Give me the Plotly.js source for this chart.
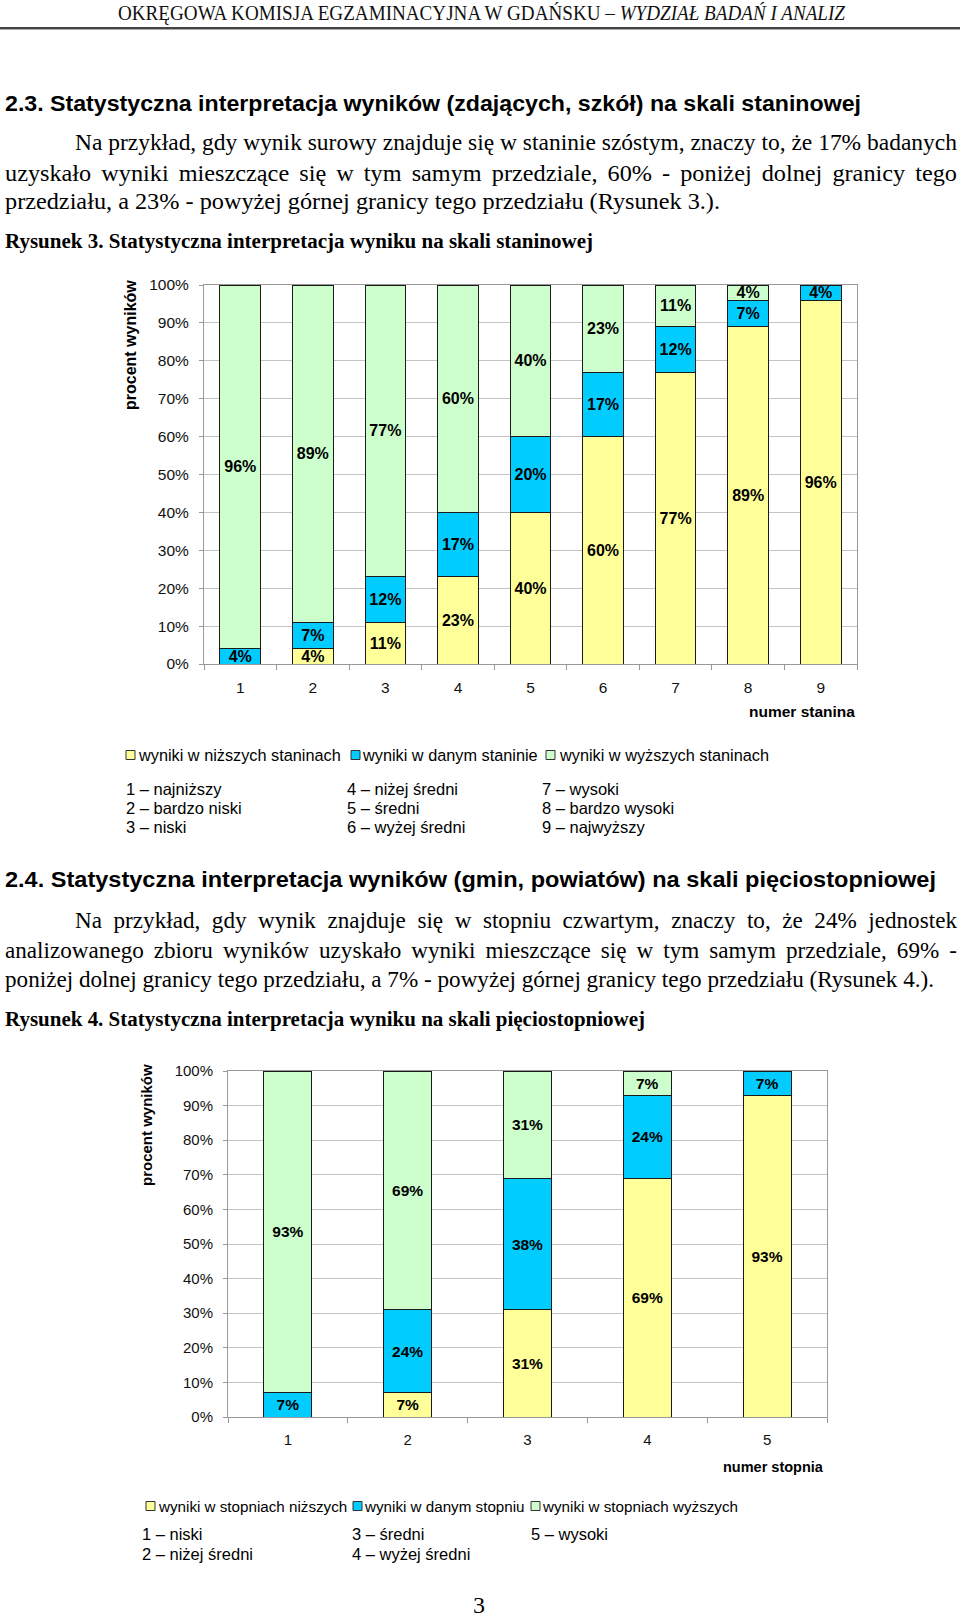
<!DOCTYPE html>
<html><head><meta charset="utf-8">
<script src="https://cdn.plot.ly/plotly-3.0.1.min.js"></script>
<style>
html,body{margin:0;padding:0;background:#fff;}
body{width:960px;height:1617px;position:relative;overflow:hidden;}
.t{position:absolute;white-space:nowrap;transform-origin:0 50%;color:#000;}
.serif{font-family:"Liberation Serif","Times New Roman",serif;}
.sans{font-family:"Liberation Sans",Arial,sans-serif;}
.chart{position:absolute;left:0;width:960px;}
#rule{position:absolute;left:0;top:27px;width:960px;height:2px;background:#444;border-bottom:1px solid #aaa;}
</style></head><body>
<div id="rule"></div>
<div id="chart1" class="chart" style="top:250px;height:530px;"></div>
<div id="chart2" class="chart" style="top:1040px;height:480px;"></div>
<script>
// ---------- data: Rysunek 3 (stanines) ----------
const staninCategories = ['1','2','3','4','5','6','7','8','9'];
const staninLower   = [0, 4, 11, 23, 40, 60, 77, 89, 96];
const staninCurrent = [4, 7, 12, 17, 20, 17, 12, 7, 4];
const staninHigher  = [96, 89, 77, 60, 40, 23, 11, 4, 0];
const staninSeriesNames = ['wyniki w niższych staninach','wyniki w danym staninie','wyniki w wyższych staninach'];
const staninDescriptions = ['1 – najniższy','2 – bardzo niski','3 – niski','4 – niżej średni','5 – średni','6 – wyżej średni','7 – wysoki','8 – bardzo wysoki','9 – najwyższy'];
const staninXTitle = 'numer stanina';

// ---------- data: Rysunek 4 (five-step scale) ----------
const stepCategories = ['1','2','3','4','5'];
const stepLower   = [0, 7, 31, 69, 93];
const stepCurrent = [7, 24, 38, 24, 7];
const stepHigher  = [93, 69, 31, 7, 0];
const stepSeriesNames = ['wyniki w stopniach niższych','wyniki w danym stopniu','wyniki w stopniach wyższych'];
const stepDescriptions = ['1 – niski','2 – niżej średni','3 – średni','4 – wyżej średni','5 – wysoki'];
const stepXTitle = 'numer stopnia';

const yTitle = 'procent wyników';
const seriesColors = ['#FFFF99','#00CCFF','#CCFFCC'];

// ---------- page text ----------
const headerHtml = 'OKRĘGOWA KOMISJA EGZAMINACYJNA W GDAŃSKU – <i>WYDZIAŁ BADAŃ I ANALIZ</i>';
const heading23 = '2.3. Statystyczna interpretacja wyników (zdających, szkół) na skali staninowej';
const para23 = ['Na przykład, gdy wynik surowy znajduje się w staninie szóstym, znaczy to, że 17% badanych',
  'uzyskało wyniki mieszczące się w tym samym przedziale, 60% - poniżej dolnej granicy tego',
  'przedziału, a 23% - powyżej górnej granicy tego przedziału (Rysunek 3.).'];
const caption3 = 'Rysunek 3. Statystyczna interpretacja wyniku na skali staninowej';
const heading24 = '2.4. Statystyczna interpretacja wyników (gmin, powiatów) na skali pięciostopniowej';
const para24 = ['Na przykład, gdy wynik znajduje się w stopniu czwartym, znaczy to, że 24% jednostek',
  'analizowanego zbioru wyników uzyskało wyniki mieszczące się w tym samym przedziale, 69% -',
  'poniżej dolnej granicy tego przedziału, a 7% - powyżej górnej granicy tego przedziału (Rysunek 4.).'];
const caption4 = 'Rysunek 4. Statystyczna interpretacja wyniku na skali pięciostopniowej';
const pageNumber = '3';

// ---------- text helpers ----------
function mk(html, o){
  const d=document.createElement('div');
  d.className='t '+(o.family||'sans');
  d.innerHTML=html;
  d.style.left=o.x+'px';
  d.style.fontSize=o.size+'px';
  d.style.lineHeight=(o.size*1.2)+'px';
  d.style.top=(o.y-o.size*0.6)+'px';
  if(o.weight) d.style.fontWeight=o.weight;
  if(o.color) d.style.color=o.color;
  document.body.appendChild(d);
  return d;
}
function place(html,o){
  const d=mk(html,o);
  if(o.width){const w=d.getBoundingClientRect().width; d.style.transform='scaleX('+(o.width/w)+')';}
  if(o.center){const w=d.getBoundingClientRect().width; d.style.left=(o.center-w/2)+'px';}
  return d;
}
function paragraph(lines, xs, ys, widths, refIdx, size){
  const els=lines.map((l,i)=>mk(l,{x:xs[i],y:ys[i],size:size,family:'serif'}));
  const nat=els.map(e=>e.getBoundingClientRect().width);
  const s=widths[refIdx]/nat[refIdx];
  els.forEach((e,i)=>{
    if(i===refIdx){e.style.transform='scaleX('+s+')';return;}
    if(nat[i]*s <= widths[i]-2){
      e.style.whiteSpace='normal'; e.style.width=(widths[i]/s)+'px';
      e.style.textAlign='justify'; e.style.textAlignLast='justify';
      e.style.transform='scaleX('+s+')';
    } else {
      e.style.transform='scaleX('+(widths[i]/nat[i])+')';
    }
  });
}

place(headerHtml,{x:118,y:14,size:21,family:'serif',width:727,color:'#111'});
place(heading23,{x:5,y:104,size:22,weight:'bold',width:856});
paragraph(para23,[75,5,5],[143,174,202],[882,952,715],2,23);
place(caption3,{x:5,y:241,size:20,family:'serif',weight:'bold',width:588});
place(heading24,{x:5,y:880,size:22,weight:'bold',width:931});
paragraph(para24,[75,5,5],[921,951,980],[882,952,929],2,23);
place(caption4,{x:5,y:1019,size:20,family:'serif',weight:'bold',width:640});
place(pageNumber,{center:479,x:0,y:1605,size:24,family:'serif'});

// descriptions under the charts
const desc1Cols=[126,347,542], desc1Rows=[790,809,828];
staninDescriptions.forEach((t,i)=>place(t,{x:desc1Cols[Math.floor(i/3)],y:desc1Rows[i%3],size:16.5}));
const desc2Cols=[142,352,531], desc2Rows=[1535,1555];
stepDescriptions.forEach((t,i)=>place(t,{x:desc2Cols[Math.floor(i/2)],y:desc2Rows[i%2],size:16.5}));

// ---------- chart helpers ----------
const FONT='Liberation Sans, Arial, sans-serif';
function paperX(c,ax){return (ax-c.ml)/(c.w-c.ml-c.mr);}
function paperY(c,ay){const ph=c.h-c.mt-c.mb;return (c.top+c.mt+ph-ay)/ph;}
function barTrace(cats, vals, name, color, fs){
  return {type:'bar', x:cats, y:vals, name:name,
    marker:{color:color, line:{color:'#1a1a1a', width:1}},
    text: vals.map(v=> v>0 ? '<b>'+v+'%</b>' : ''),
    textposition:'inside', insidetextanchor:'middle', textangle:0, constraintext:'none',
    textfont:{family:FONT, size:fs, color:'#000'},
    cliponaxis:false, hoverinfo:'skip'};
}
function legendParts(c, names, sqX, txX, yAbs, sq, fs){
  const shapes=names.map((n,i)=>({type:'rect',xref:'paper',yref:'paper',
    x0:paperX(c,sqX[i]),x1:paperX(c,sqX[i]+sq),y0:paperY(c,yAbs+sq/2),y1:paperY(c,yAbs-sq/2),
    fillcolor:seriesColors[i],line:{color:'#333',width:1}}));
  const ann=names.map((n,i)=>({xref:'paper',yref:'paper',x:paperX(c,txX[i]-1),y:paperY(c,yAbs),
    xanchor:'left',yanchor:'middle',text:n,showarrow:false,font:{family:FONT,size:fs,color:'#000'}}));
  return {shapes, ann};
}
function makeChart(id, c, cats, lower, cur, higher, names, opts){
  const traces=[barTrace(cats,lower,names[0],seriesColors[0],opts.labelSize),
                barTrace(cats,cur,names[1],seriesColors[1],opts.labelSize),
                barTrace(cats,higher,names[2],seriesColors[2],opts.labelSize)];
  const leg=legendParts(c,names,opts.sqX,opts.txX,opts.legY,9,opts.legSize);
  const ann=leg.ann.concat([
    {xref:'paper',yref:'paper',x:paperX(c,opts.yTitleX),y:paperY(c,opts.yTitleY),textangle:-90,
     xanchor:'center',yanchor:'middle',showarrow:false,text:'<b>'+yTitle+'</b>',font:{family:FONT,size:opts.yTitleSize,color:'#000'}},
    {xref:'paper',yref:'paper',x:paperX(c,opts.xTitleRight),y:paperY(c,opts.xTitleY),xanchor:'right',yanchor:'middle',
     showarrow:false,text:'<b>'+opts.xTitle+'</b>',font:{family:FONT,size:opts.xTitleSize,color:'#000'}}
  ]);
  const layout={width:c.w,height:c.h,margin:{l:c.ml,r:c.mr,t:c.mt,b:c.mb,pad:0},
    barmode:'stack',bargap:opts.bargap,showlegend:false,
    paper_bgcolor:'rgba(0,0,0,0)',plot_bgcolor:'#fff',
    font:{family:FONT,color:'#000'},
    xaxis:{type:'category',tickson:'boundaries',ticks:'outside',ticklen:5,tickcolor:'#999',
      showline:true,linecolor:'#999',linewidth:1,mirror:true,showgrid:false,
      tickfont:{size:opts.tickSize,color:'#111'},ticklabelstandoff:opts.xStandoff,fixedrange:true},
    yaxis:{range:[0,100],dtick:10,ticksuffix:'%',showgrid:true,gridcolor:'#c4c4c4',gridwidth:1,
      ticks:'outside',ticklen:4,tickcolor:'#999',showline:true,linecolor:'#999',linewidth:1,mirror:true,
      zeroline:false,tickfont:{size:opts.tickSize,color:'#111'},ticklabelstandoff:opts.yStandoff,fixedrange:true},
    shapes:leg.shapes, annotations:ann};
  Plotly.newPlot(id,traces,layout,{staticPlot:true,displayModeBar:false});
}

const C1={top:250,w:960,h:530,ml:204,mr:103,mt:35,mb:116};
makeChart('chart1',C1,staninCategories,staninLower,staninCurrent,staninHigher,staninSeriesNames,{
  labelSize:16,tickSize:15.5,bargap:0.44,xStandoff:9,yStandoff:7,
  sqX:[126,351,546],txX:[137,361,558],legY:755,legSize:16.3,
  yTitleX:130,yTitleY:345,yTitleSize:16,xTitle:staninXTitle,xTitleRight:857,xTitleY:711,xTitleSize:15.5});

const C2={top:1040,w:960,h:480,ml:228,mr:133,mt:31,mb:103};
makeChart('chart2',C2,stepCategories,stepLower,stepCurrent,stepHigher,stepSeriesNames,{
  labelSize:15.5,tickSize:15,bargap:0.6,xStandoff:9,yStandoff:7,
  sqX:[146,353,531],txX:[157,363,541],legY:1506,legSize:15.2,
  yTitleX:146,yTitleY:1125,yTitleSize:15,xTitle:stepXTitle,xTitleRight:826,xTitleY:1467,xTitleSize:14.5});
</script>
</body></html>
